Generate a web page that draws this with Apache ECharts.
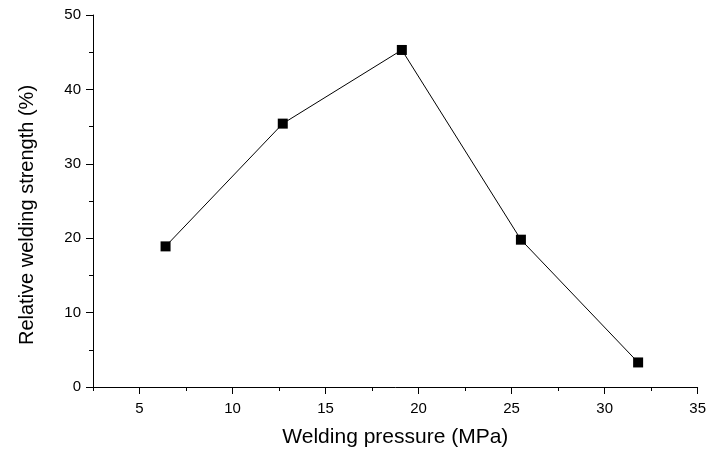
<!DOCTYPE html>
<html><head><meta charset="utf-8">
<script src="https://cdn.jsdelivr.net/npm/echarts@6/dist/echarts.min.js"></script>
<style>html,body{margin:0;padding:0;background:#fff}#c{width:709px;height:453px}</style>
</head><body><div id="c"></div>
<script>
var pressure = [6.4, 12.7, 19.1, 25.5, 31.8];
var strength = [18.9, 35.4, 45.3, 19.8, 3.3];
var xMajorTicks = [5, 10, 15, 20, 25, 30, 35];
var xMinorTicks = [2.5, 7.5, 12.5, 17.5, 22.5, 27.5, 32.5];
var xTitle = 'Welding pressure (MPa)';
var yTitle = 'Relative welding strength (%)';

var font = 'Liberation Sans, Arial, sans-serif';
var chart = echarts.init(document.getElementById('c'));
chart.setOption({
  animation: false,
  grid: {left: 93, right: 10, top: 15, bottom: 66},
  xAxis: [{
    type: 'value', min: 2.5, max: 35,
    name: xTitle, nameLocation: 'middle', nameGap: 40,
    nameTextStyle: {fontFamily: font, fontSize: 21, color: '#000'},
    axisLine: {show: true, onZero: false, lineStyle: {color: '#000', width: 1}},
    axisTick: {show: true, customValues: xMajorTicks, length: 7, lineStyle: {color: '#000'}},
    axisLabel: {customValues: xMajorTicks, margin: 14, fontFamily: font, fontSize: 15, color: '#000'},
    splitLine: {show: false}
  }, {
    type: 'value', min: 2.5, max: 35, position: 'bottom',
    axisLine: {show: false},
    axisTick: {show: true, customValues: xMinorTicks, length: 4, lineStyle: {color: '#000'}},
    axisLabel: {show: false},
    splitLine: {show: false}
  }],
  yAxis: {
    type: 'value', min: 0, max: 50, interval: 10,
    name: yTitle, nameLocation: 'middle', nameGap: 56,
    nameTextStyle: {fontFamily: font, fontSize: 20, color: '#000', padding: [0, 28, 0, 0]},
    axisLine: {show: true, onZero: false, lineStyle: {color: '#000', width: 1}},
    axisTick: {show: true, length: 7, lineStyle: {color: '#000'}},
    minorTick: {show: true, splitNumber: 2, length: 4, lineStyle: {color: '#000'}},
    axisLabel: {margin: 12, fontFamily: font, fontSize: 15, color: '#000'},
    splitLine: {show: false}
  },
  series: [{
    type: 'line',
    data: pressure.map(function (p, i) { return [p, strength[i]]; }),
    symbol: 'rect', symbolSize: 10,
    itemStyle: {color: '#000'},
    lineStyle: {color: '#000', width: 1}
  }]
});
</script></body></html>
